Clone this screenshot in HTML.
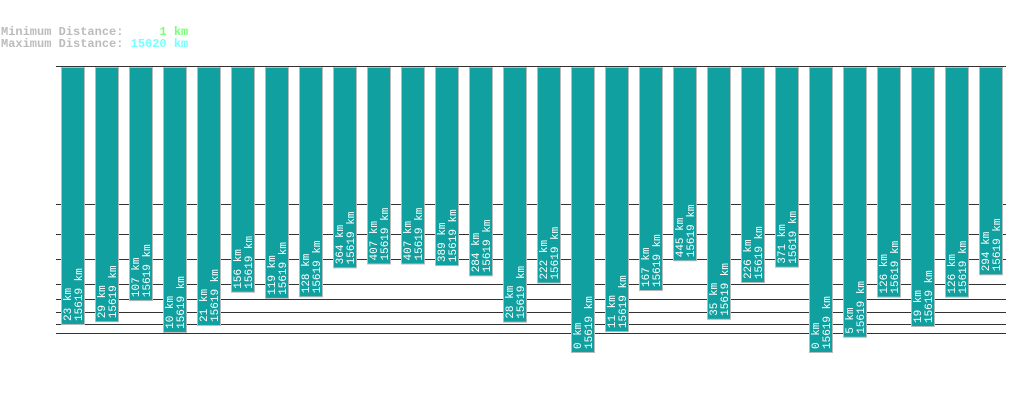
<!DOCTYPE html>
<html><head><meta charset="utf-8"><style>
body{margin:0;background:#fff;width:1019px;height:402px;overflow:hidden}
svg{display:block}
text{font-family:"Liberation Mono","DejaVu Sans Mono",monospace}
</style></head><body>
<svg id="chart" width="1019" height="402" viewBox="0 0 1019 402">
<text x="1" y="35" font-size="12" fill="#bbb" font-weight="bold" xml:space="preserve">Minimum Distance:     <tspan fill="#77ff77">1 km</tspan></text>
<text x="1" y="47" font-size="12" fill="#bbb" font-weight="bold" xml:space="preserve">Maximum Distance: <tspan fill="#77ffff">15620 km</tspan></text>
<g id="grid"></g><g id="bars"></g>
</svg>
<script>
const distances=[23,29,107,10,21,156,119,128,364,407,407,389,284,28,222,0,11,167,445,35,226,371,0,5,126,19,126,294];
const maxLabels=["15619 km"];
const gridValues=[0,1,3,6,18,40,70,150];
const NS="http://www.w3.org/2000/svg";
const top0=67,base=352;
function yScale(v){return base-8*Math.pow(v,0.4);}
function xScale(i){return 61+34*i;}
const grid=document.getElementById('grid'),bars=document.getElementById('bars');
const gy=[204,234,259,284,299,312,324,333];
gy.forEach(y=>{const l=document.createElementNS(NS,'line');


l.setAttribute('x1',56);l.setAttribute('x2',1006);l.setAttribute('y1',y+.5);l.setAttribute('y2',y+.5);
l.setAttribute('stroke','#333');grid.appendChild(l);});
const tl=document.createElementNS(NS,'line');


tl.setAttribute('x1',56);tl.setAttribute('x2',1006);tl.setAttribute('y1',66.5);tl.setAttribute('y2',66.5);tl.setAttribute('stroke','#333');grid.appendChild(tl);
distances.forEach((v,i)=>{
const x=xScale(i),b=yScale(v);
const r=document.createElementNS(NS,'rect');


r.setAttribute('x',x+.5);r.setAttribute('y',top0+.5);r.setAttribute('width',23);r.setAttribute('height',b-top0);
r.setAttribute('fill','#11a0a0');r.setAttribute('stroke','#bbb');bars.appendChild(r);
[[v+" km",x+10],[maxLabels[0],x+21]].forEach(([s,tx])=>{
const t=document.createElementNS(NS,'text');


t.setAttribute('transform','translate('+tx+','+(b-3)+') rotate(-90)');
t.setAttribute('font-size','11');t.setAttribute('fill','#fff');t.textContent=s;bars.appendChild(t);});
});
</script>
</body></html>
